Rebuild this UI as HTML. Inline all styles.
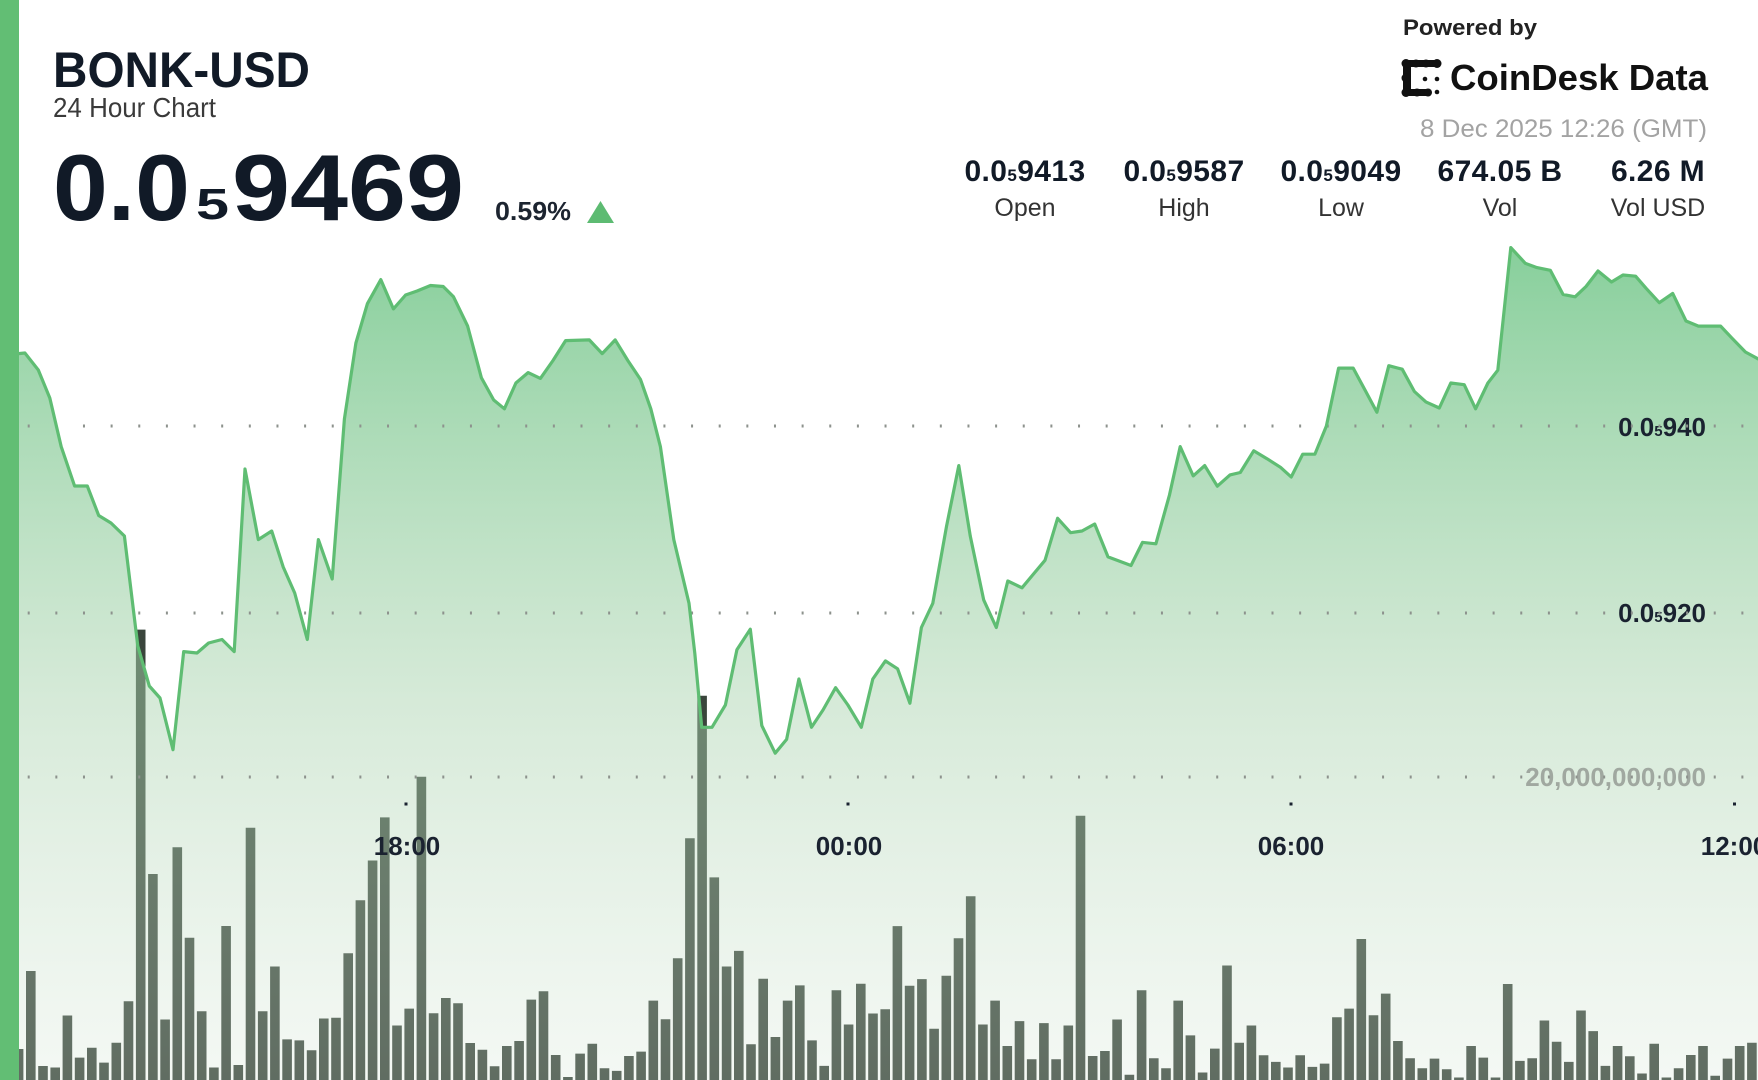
<!DOCTYPE html>
<html>
<head>
<meta charset="utf-8">
<style>
html,body{margin:0;padding:0;background:#fff;width:1758px;height:1080px;overflow:hidden}
svg{display:block}
text{font-family:"Liberation Sans","DejaVu Sans",sans-serif}
</style>
</head>
<body>
<svg width="1758" height="1080" viewBox="0 0 1758 1080" xmlns="http://www.w3.org/2000/svg">
<defs>
<linearGradient id="fillg" gradientUnits="userSpaceOnUse" x1="0" y1="247" x2="0" y2="1080">
<stop offset="0" stop-color="rgb(105,195,130)" stop-opacity="0.8"/>
<stop offset="0.544" stop-color="rgb(167,210,172)" stop-opacity="0.47"/>
<stop offset="1" stop-color="rgb(211,228,211)" stop-opacity="0.25"/>
</linearGradient>
</defs>
<rect x="0" y="0" width="1758" height="1080" fill="#ffffff"/>

<!-- volume bars -->
<path fill="#3a453c" d="
M1.6 1060h9.6V1080h-9.6z M13.8 1049h9.6V1080h-9.6z M26 971h9.6V1080h-9.6z M38.2 1066h9.6V1080h-9.6z M50.4 1067.5h9.6V1080h-9.6z
M62.6 1015.5h9.6V1080h-9.6z M74.8 1057.6h9.6V1080h-9.6z M87 1047.7h9.6V1080h-9.6z M99.2 1062.6h9.6V1080h-9.6z M111.5 1042.7h9.6V1080h-9.6z
M123.7 1001.3h9.6V1080h-9.6z M135.9 629.6h9.6V1080h-9.6z M148.1 874h9.6V1080h-9.6z M160.3 1019.5h9.6V1080h-9.6z M172.5 847.2h9.6V1080h-9.6z
M184.7 937.7h9.6V1080h-9.6z M196.9 1011.2h9.6V1080h-9.6z M209.1 1067.5h9.6V1080h-9.6z M221.3 926h9.6V1080h-9.6z M233.5 1065h9.6V1080h-9.6z
M245.7 827.7h9.6V1080h-9.6z M257.9 1011.2h9.6V1080h-9.6z M270.1 966.5h9.6V1080h-9.6z M282.3 1039.4h9.6V1080h-9.6z M294.5 1040.4h9.6V1080h-9.6z
M306.8 1050.3h9.6V1080h-9.6z M319 1018.5h9.6V1080h-9.6z M331.2 1017.8h9.6V1080h-9.6z M343.4 953.2h9.6V1080h-9.6z M355.6 900.2h9.6V1080h-9.6z
M367.8 860.5h9.6V1080h-9.6z M380 817.4h9.6V1080h-9.6z M392.2 1025.5h9.6V1080h-9.6z M404.4 1008.6h9.6V1080h-9.6z M416.6 776.7h9.6V1080h-9.6z
M428.8 1013.2h9.6V1080h-9.6z M441 998h9.6V1080h-9.6z M453.2 1003.3h9.6V1080h-9.6z M465.4 1043h9.6V1080h-9.6z M477.6 1049.7h9.6V1080h-9.6z
M489.8 1066.2h9.6V1080h-9.6z M502 1046h9.6V1080h-9.6z M514.3 1041h9.6V1080h-9.6z M526.5 999.6h9.6V1080h-9.6z M538.7 991.3h9.6V1080h-9.6z
M550.9 1055h9.6V1080h-9.6z M563.1 1077h9.6V1080h-9.6z M575.3 1053.6h9.6V1080h-9.6z M587.5 1043.7h9.6V1080h-9.6z M599.7 1068.2h9.6V1080h-9.6z
M611.9 1070.9h9.6V1080h-9.6z M624.1 1056h9.6V1080h-9.6z M636.3 1051.6h9.6V1080h-9.6z M648.5 1000.6h9.6V1080h-9.6z M660.7 1019.2h9.6V1080h-9.6z
M672.9 958.2h9.6V1080h-9.6z M685.1 838.3h9.6V1080h-9.6z M697.3 695.8h9.6V1080h-9.6z M709.5 877.4h9.6V1080h-9.6z M721.8 966.5h9.6V1080h-9.6z
M734 950.9h9.6V1080h-9.6z M746.2 1044.3h9.6V1080h-9.6z M758.4 978.7h9.6V1080h-9.6z M770.6 1037h9.6V1080h-9.6z M782.8 1000.6h9.6V1080h-9.6z
M795 985.4h9.6V1080h-9.6z M807.2 1040.4h9.6V1080h-9.6z M819.4 1065.9h9.6V1080h-9.6z M831.6 990.3h9.6V1080h-9.6z M843.8 1024.5h9.6V1080h-9.6z
M856 983.7h9.6V1080h-9.6z M868.2 1013.5h9.6V1080h-9.6z M880.4 1009.2h9.6V1080h-9.6z M892.6 926.1h9.6V1080h-9.6z M904.8 985.7h9.6V1080h-9.6z
M917.1 979.1h9.6V1080h-9.6z M929.3 1028.8h9.6V1080h-9.6z M941.5 975.8h9.6V1080h-9.6z M953.7 938.3h9.6V1080h-9.6z M965.9 896.2h9.6V1080h-9.6z
M978.1 1024.5h9.6V1080h-9.6z M990.3 1000.6h9.6V1080h-9.6z M1002.5 1046h9.6V1080h-9.6z M1014.7 1021.1h9.6V1080h-9.6z M1026.9 1059.2h9.6V1080h-9.6z
M1039.1 1023.1h9.6V1080h-9.6z M1051.3 1059.2h9.6V1080h-9.6z M1063.5 1025.5h9.6V1080h-9.6z M1075.7 815.7h9.6V1080h-9.6z M1087.9 1056h9.6V1080h-9.6z
M1100.1 1051h9.6V1080h-9.6z M1112.3 1019.5h9.6V1080h-9.6z M1124.6 1074.8h9.6V1080h-9.6z M1136.8 990.3h9.6V1080h-9.6z M1149 1058.3h9.6V1080h-9.6z
M1161.2 1068.2h9.6V1080h-9.6z M1173.4 1000.6h9.6V1080h-9.6z M1185.6 1035.4h9.6V1080h-9.6z M1197.8 1072.5h9.6V1080h-9.6z M1210 1048.6h9.6V1080h-9.6z
M1222.2 965.5h9.6V1080h-9.6z M1234.4 1042.7h9.6V1080h-9.6z M1246.6 1025.5h9.6V1080h-9.6z M1258.8 1055.3h9.6V1080h-9.6z M1271 1061.9h9.6V1080h-9.6z
M1283.2 1067.5h9.6V1080h-9.6z M1295.4 1055.3h9.6V1080h-9.6z M1307.6 1066.9h9.6V1080h-9.6z M1319.8 1063.6h9.6V1080h-9.6z M1332.1 1017.2h9.6V1080h-9.6z
M1344.3 1008.6h9.6V1080h-9.6z M1356.5 939h9.6V1080h-9.6z M1368.7 1015.2h9.6V1080h-9.6z M1380.9 993.6h9.6V1080h-9.6z M1393.1 1041h9.6V1080h-9.6z
M1405.3 1058.3h9.6V1080h-9.6z M1417.5 1068.2h9.6V1080h-9.6z M1429.7 1058.6h9.6V1080h-9.6z M1441.9 1069.2h9.6V1080h-9.6z M1454.1 1077.5h9.6V1080h-9.6z
M1466.3 1046h9.6V1080h-9.6z M1478.5 1057.6h9.6V1080h-9.6z M1490.7 1077.5h9.6V1080h-9.6z M1502.9 984h9.6V1080h-9.6z M1515.1 1060.9h9.6V1080h-9.6z
M1527.4 1058.3h9.6V1080h-9.6z M1539.6 1020.5h9.6V1080h-9.6z M1551.8 1041.7h9.6V1080h-9.6z M1564 1061.9h9.6V1080h-9.6z M1576.2 1010.5h9.6V1080h-9.6z
M1588.4 1031.1h9.6V1080h-9.6z M1600.6 1065.9h9.6V1080h-9.6z M1612.8 1046h9.6V1080h-9.6z M1625 1056.3h9.6V1080h-9.6z M1637.2 1073.5h9.6V1080h-9.6z
M1649.4 1043.7h9.6V1080h-9.6z M1661.6 1077.5h9.6V1080h-9.6z M1673.8 1068.2h9.6V1080h-9.6z M1686 1055h9.6V1080h-9.6z M1698.2 1046h9.6V1080h-9.6z
M1710.4 1075.8h9.6V1080h-9.6z M1722.7 1058.6h9.6V1080h-9.6z M1734.9 1046h9.6V1080h-9.6z M1747.1 1042.7h9.6V1080h-9.6z"/>

<!-- area fill -->
<path fill="url(#fillg)" d="M0 350 L18.4 353.6 L24.9 353 L38.3 370 L49.8 398 L61.2 446.6 L74.6 486 L87.3 486 L98.7 515.5 L111 523 L124.4 536 L137.8 646 L149.3 686 L160 698 L173 749.7 L183.7 651.6 L197 653 L208.6 643 L222 639.5 L234.2 651.6 L245 469 L258.3 539.6 L271.7 531 L283.2 567 L294.7 593 L307.3 639.5 L318.4 539.6 L332.2 579 L344.4 419 L355.9 343 L367.4 303.7 L380.8 279.6 L393.4 308.9 L405.6 295 L417.1 291 L430.5 285.5 L443.2 286.5 L453.5 296.8 L467.6 326 L481.4 377.8 L493.7 400 L504.4 408.8 L515.9 383 L528.1 372.6 L540.4 378.4 L553 360.5 L565.6 340.6 L589.3 339.9 L602.2 353.6 L615.2 339.9 L627.8 360.5 L640.5 379.5 L650.8 408.8 L660.4 446.6 L673.8 539.6 L689 603.3 L694.8 653.3 L701.7 727.3 L712 727.3 L725.4 705 L736.9 649.8 L750.3 629.2 L761.8 725.6 L775.2 753.2 L786.6 739.4 L798.9 679 L811.5 727.3 L823 710 L835.6 687.7 L847.9 705 L861.3 727.3 L872.8 679 L885.4 660.9 L897.6 668.8 L909.9 703.2 L921.4 627.5 L932.8 603.3 L946.6 525.9 L958.8 465.6 L970.3 536.2 L983.7 599.9 L996.3 627.5 L1007.8 581 L1022 587.8 L1033.5 574 L1045 560.3 L1057.6 518.3 L1070.6 532.7 L1082 531 L1094.7 524 L1108 556.9 L1131 565.5 L1142.5 542.4 L1155.9 543.8 L1169.5 494.9 L1180.2 446.6 L1193.2 475.9 L1204.7 465.6 L1217.3 486.2 L1230 474.9 L1240.3 472.5 L1253.7 450.8 L1267 458.7 L1280.5 467.3 L1291.2 477 L1302.7 454.2 L1314.9 454.2 L1326.4 426 L1338.6 368.1 L1353.2 368.1 L1365.4 390.8 L1376.9 412.2 L1388.8 365.7 L1402.2 369.2 L1414.4 391.5 L1425.9 401.9 L1439.3 408 L1450.8 383 L1464.2 384.7 L1475.6 408.8 L1487.9 383 L1497.8 370.2 L1510.8 247.6 L1525.4 263.4 L1536.9 267.6 L1550.3 270.3 L1563 294.4 L1575.1 296.8 L1586 286.5 L1598 271 L1611.5 282 L1623 275 L1635.6 276.2 L1646 288.2 L1659.3 302.7 L1672.7 293.4 L1686 321 L1698.4 326.1 L1720.6 326.1 L1732 338.2 L1745.4 352 L1758 358.8 L1758 1080 L0 1080 Z"/>

<!-- y-axis labels -->
<g font-size="26" font-weight="700" fill="#1a2230" text-anchor="end">
<text x="1706" y="436">0.0<tspan font-size="15">5</tspan>940</text>
<text x="1706" y="622">0.0<tspan font-size="15">5</tspan>920</text>
</g>
<text x="1706" y="786" text-anchor="end" font-size="26" font-weight="700" fill="#a0a8a0">20,000,000,000</text>

<!-- dotted gridlines -->
<g stroke="#8d928d" stroke-width="3" stroke-dasharray="2 25.64">
<line x1="27.7" y1="426" x2="1758" y2="426"/>
<line x1="27.7" y1="613" x2="1758" y2="613"/>
<line x1="27.7" y1="777" x2="1758" y2="777"/>
</g>

<!-- price line -->
<path fill="none" stroke="#5fbd73" stroke-width="3.2" stroke-linejoin="round" stroke-linecap="round" d="M0 350 L18.4 353.6 L24.9 353 L38.3 370 L49.8 398 L61.2 446.6 L74.6 486 L87.3 486 L98.7 515.5 L111 523 L124.4 536 L137.8 646 L149.3 686 L160 698 L173 749.7 L183.7 651.6 L197 653 L208.6 643 L222 639.5 L234.2 651.6 L245 469 L258.3 539.6 L271.7 531 L283.2 567 L294.7 593 L307.3 639.5 L318.4 539.6 L332.2 579 L344.4 419 L355.9 343 L367.4 303.7 L380.8 279.6 L393.4 308.9 L405.6 295 L417.1 291 L430.5 285.5 L443.2 286.5 L453.5 296.8 L467.6 326 L481.4 377.8 L493.7 400 L504.4 408.8 L515.9 383 L528.1 372.6 L540.4 378.4 L553 360.5 L565.6 340.6 L589.3 339.9 L602.2 353.6 L615.2 339.9 L627.8 360.5 L640.5 379.5 L650.8 408.8 L660.4 446.6 L673.8 539.6 L689 603.3 L694.8 653.3 L701.7 727.3 L712 727.3 L725.4 705 L736.9 649.8 L750.3 629.2 L761.8 725.6 L775.2 753.2 L786.6 739.4 L798.9 679 L811.5 727.3 L823 710 L835.6 687.7 L847.9 705 L861.3 727.3 L872.8 679 L885.4 660.9 L897.6 668.8 L909.9 703.2 L921.4 627.5 L932.8 603.3 L946.6 525.9 L958.8 465.6 L970.3 536.2 L983.7 599.9 L996.3 627.5 L1007.8 581 L1022 587.8 L1033.5 574 L1045 560.3 L1057.6 518.3 L1070.6 532.7 L1082 531 L1094.7 524 L1108 556.9 L1131 565.5 L1142.5 542.4 L1155.9 543.8 L1169.5 494.9 L1180.2 446.6 L1193.2 475.9 L1204.7 465.6 L1217.3 486.2 L1230 474.9 L1240.3 472.5 L1253.7 450.8 L1267 458.7 L1280.5 467.3 L1291.2 477 L1302.7 454.2 L1314.9 454.2 L1326.4 426 L1338.6 368.1 L1353.2 368.1 L1365.4 390.8 L1376.9 412.2 L1388.8 365.7 L1402.2 369.2 L1414.4 391.5 L1425.9 401.9 L1439.3 408 L1450.8 383 L1464.2 384.7 L1475.6 408.8 L1487.9 383 L1497.8 370.2 L1510.8 247.6 L1525.4 263.4 L1536.9 267.6 L1550.3 270.3 L1563 294.4 L1575.1 296.8 L1586 286.5 L1598 271 L1611.5 282 L1623 275 L1635.6 276.2 L1646 288.2 L1659.3 302.7 L1672.7 293.4 L1686 321 L1698.4 326.1 L1720.6 326.1 L1732 338.2 L1745.4 352 L1758 358.8"/>

<!-- x-axis ticks and labels -->
<g fill="#1a2230">
<rect x="404.5" y="802.5" width="3" height="3"/>
<rect x="846.5" y="802.5" width="3" height="3"/>
<rect x="1289.5" y="802.5" width="3" height="3"/>
<rect x="1733" y="802.5" width="3" height="3"/>
</g>
<g font-size="26" font-weight="700" fill="#1a2230" text-anchor="middle">
<text x="407" y="855">18:00</text>
<text x="849" y="855">00:00</text>
<text x="1291" y="855">06:00</text>
<text x="1734" y="855">12:00</text>
</g>

<!-- left green bar -->
<rect x="0" y="0" width="19" height="1080" fill="#62be74"/>

<!-- header left -->
<text x="53" y="87" font-size="50" font-weight="700" fill="#111a27" textLength="257" lengthAdjust="spacingAndGlyphs">BONK-USD</text>
<text x="53" y="117" font-size="28" fill="#3a3a3a" textLength="163" lengthAdjust="spacingAndGlyphs">24 Hour Chart</text>
<text x="53" y="220" font-size="94" font-weight="700" fill="#111a27" textLength="137" lengthAdjust="spacingAndGlyphs">0.0</text>
<text x="196" y="219" font-size="44" font-weight="700" fill="#111a27" textLength="33" lengthAdjust="spacingAndGlyphs">5</text>
<text x="232" y="220" font-size="94" font-weight="700" fill="#111a27" textLength="232" lengthAdjust="spacingAndGlyphs">9469</text>
<text x="495" y="220" font-size="26" font-weight="700" fill="#1c2430" textLength="76" lengthAdjust="spacingAndGlyphs">0.59%</text>
<polygon points="587,223 614,223 600.5,201" fill="#5dbb72"/>

<!-- header right -->
<text x="1403" y="35" font-size="22" font-weight="700" fill="#222" textLength="134" lengthAdjust="spacingAndGlyphs">Powered by</text>
<g fill="#111">
<rect x="1402" y="60" width="38" height="7" rx="3"/>
<rect x="1403" y="60" width="8" height="36" rx="3"/>
<rect x="1402" y="89" width="28" height="7" rx="3"/>
<circle cx="1406" cy="63.5" r="4.5"/>
<circle cx="1416" cy="63.5" r="4"/>
<circle cx="1426" cy="63.5" r="4"/>
<circle cx="1437" cy="63.5" r="4.5"/>
<circle cx="1406" cy="78" r="4.5"/>
<circle cx="1406" cy="92.5" r="4.5"/>
<circle cx="1417" cy="92.5" r="4"/>
<circle cx="1428" cy="92.5" r="4"/>
<circle cx="1425" cy="79" r="2.3"/>
<circle cx="1437" cy="79" r="2.3"/>
<circle cx="1437" cy="92" r="2.3"/>
</g>
<text x="1450" y="90" font-size="36" font-weight="700" fill="#111" textLength="258" lengthAdjust="spacingAndGlyphs">CoinDesk Data</text>
<text x="1420" y="137" font-size="25" fill="#a3a3a3" textLength="287" lengthAdjust="spacingAndGlyphs">8 Dec 2025 12:26 (GMT)</text>

<g font-size="30" font-weight="700" fill="#111a27" text-anchor="middle" letter-spacing="0.4">
<text x="1025" y="181">0.0<tspan font-size="17">5</tspan>9413</text>
<text x="1184" y="181">0.0<tspan font-size="17">5</tspan>9587</text>
<text x="1341" y="181">0.0<tspan font-size="17">5</tspan>9049</text>
<text x="1500" y="181">674.05 B</text>
<text x="1658" y="181">6.26 M</text>
</g>
<g font-size="25" fill="#333" text-anchor="middle">
<text x="1025" y="216">Open</text>
<text x="1184" y="216">High</text>
<text x="1341" y="216">Low</text>
<text x="1500" y="216">Vol</text>
<text x="1658" y="216">Vol USD</text>
</g>
</svg>
</body>
</html>
